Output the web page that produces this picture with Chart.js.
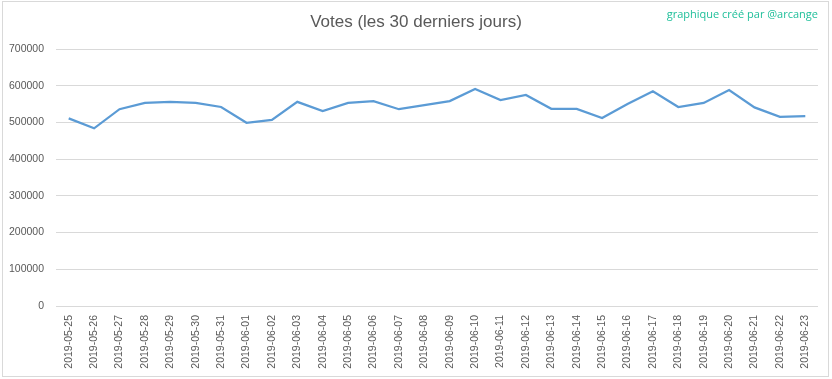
<!DOCTYPE html>
<html>
<head>
<meta charset="utf-8">
<script src="https://cdn.jsdelivr.net/npm/chart.js@4/dist/chart.umd.min.js"></script>
<style>
html,body{margin:0;padding:0;background:#fff;}
#wrap{width:832px;height:379px;position:relative;}
</style>
</head>
<body>
<div id="wrap"><canvas id="c" width="832" height="379"></canvas></div>
<script>
const categories = ["2019-05-25","2019-05-26","2019-05-27","2019-05-28","2019-05-29","2019-05-30","2019-05-31","2019-06-01","2019-06-02","2019-06-03","2019-06-04","2019-06-05","2019-06-06","2019-06-07","2019-06-08","2019-06-09","2019-06-10","2019-06-11","2019-06-12","2019-06-13","2019-06-14","2019-06-15","2019-06-16","2019-06-17","2019-06-18","2019-06-19","2019-06-20","2019-06-21","2019-06-22","2019-06-23"];
const votes = [511000,484000,536000,553000,556000,553000,542000,499000,507000,556000,531000,553000,558000,536000,547000,558000,591000,561000,575000,537000,537000,512000,550000,585000,542000,553000,588000,541000,515000,517000];
const yTicks = [0,100000,200000,300000,400000,500000,600000,700000];
const titleText = "Votes (les 30 derniers jours)";
const creditText = "graphique créé par @arcange";

const decor = {
  id: 'decor',
  beforeDraw(chart) {
    const ctx = chart.ctx;
    ctx.save();
    ctx.fillStyle = '#ffffff';
    ctx.fillRect(0,0,chart.width,chart.height);
    ctx.strokeStyle = '#d9d9d9';
    ctx.lineWidth = 1;
    ctx.strokeRect(2.5,1.5,826,375);
    ctx.restore();
  },
  afterDraw(chart) {
    const ctx = chart.ctx;
    ctx.save();
    ctx.fillStyle = '#595959';
    ctx.font = '17px "Liberation Sans", Arial, sans-serif';
    ctx.textAlign = 'center';
    ctx.textBaseline = 'middle';
    ctx.fillText(titleText, 416, 22);
    ctx.fillStyle = '#1fbf9a';
    ctx.font = '11px "Open Sans", sans-serif';
    ctx.textAlign = 'right';
    ctx.fillText(creditText, 818, 15);
    ctx.restore();
  }
};

new Chart(document.getElementById('c'), {
  type: 'line',
  data: {
    labels: categories,
    datasets: [{
      data: votes,
      borderColor: '#5b9bd5',
      borderWidth: 2.25,
      pointRadius: 0,
      tension: 0,
      fill: false
    }]
  },
  options: {
    responsive: false,
    animation: false,
    layout: { padding: { top: 49, left: 0, right: 14, bottom: 0 } },
    plugins: { legend: { display: false }, title: { display: false }, tooltip: { enabled: false } },
    scales: {
      x: {
        offset: true,
        grid: { display: false, drawTicks: false },
        border: { display: false },
        ticks: {
          color: '#595959',
          font: { family: '"Liberation Sans", Arial, sans-serif', size: 10.5 },
          minRotation: 90, maxRotation: 90, autoSkip: false, padding: 9
        },
        afterFit(s) { s.height = 73; }
      },
      y: {
        min: 0, max: 700000,
        afterBuildTicks(s) { s.ticks = yTicks.map(v => ({ value: v })); },
        grid: { color: '#d9d9d9', lineWidth: 1, drawTicks: false },
        border: { display: false },
        ticks: {
          color: '#595959',
          font: { family: '"Liberation Sans", Arial, sans-serif', size: 10.5 },
          padding: 12,
          callback: v => String(v)
        },
        afterFit(s) { s.width = 56; }
      }
    }
  },
  plugins: [decor]
});
</script>
</body>
</html>
